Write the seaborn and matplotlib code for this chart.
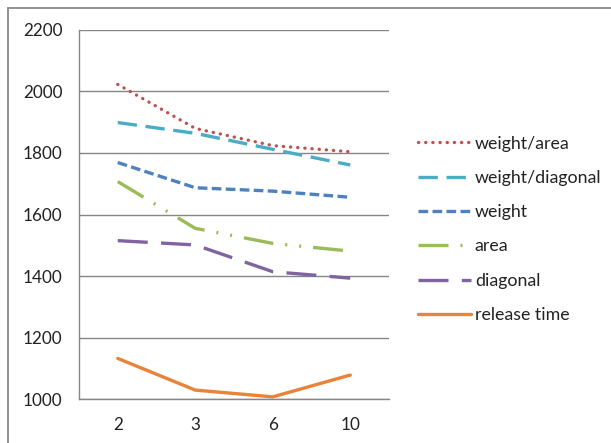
import matplotlib
matplotlib.use("Agg")
import matplotlib.pyplot as plt
import seaborn as sns
import pandas as pd

# data
groups = ["2", "3", "6", "10"]
weight_area = [2023, 1880, 1824, 1804]
weight_diagonal = [1899, 1864, 1812, 1761]
weight = [1769, 1687, 1676, 1656]
area = [1707, 1555, 1506, 1481]
diagonal = [1515, 1501, 1414, 1393]
release_time = [1132, 1029, 1007, 1078]

series = [
    ("weight/area", weight_area, "#C0504D", (0, (0.05, 2.1))),
    ("weight/diagonal", weight_diagonal, "#4BACC6", (0, (5.8, 2.6))),
    ("weight", weight, "#4F81BD", (0, (2.9, 1.3))),
    ("area", area, "#9BBB59", (0, (9, 3.6, 0.6, 3.6, 0.6, 3.6))),
    ("diagonal", diagonal, "#8064A2", (0, (9, 4))),
    ("release time", release_time, "#E8833A", "-"),
]

sns.set_style("white")
plt.rcParams["font.family"] = ["Lato", "DejaVu Sans"]

fig = plt.figure(figsize=(6.11, 4.43), dpi=100)
ax = fig.add_axes([0.1293, 0.0993, 0.5074, 0.833])

for name, vals, col, ls in series:
    df = pd.DataFrame({"group": groups, "value": vals})
    sns.lineplot(data=df, x="group", y="value", sort=False, color=col,
                 linestyle=ls, linewidth=2.4, label=name, ax=ax)

for ln in ax.get_lines():
    ln.set_dash_capstyle("round" if ln.get_label() == "weight/area" else "butt")

ax.set_xlim(-0.5, 3.5)
ax.set_ylim(1000, 2200)
ax.set_yticks(range(1000, 2201, 200))
ax.yaxis.grid(True, color="#868686", linewidth=1)
ax.set_axisbelow(True)
ax.set_xlabel("")
ax.set_ylabel("")
for s in ["top", "right"]:
    ax.spines[s].set_visible(False)
ax.spines["left"].set_color("#868686")
ax.spines["bottom"].set_color("#868686")
ax.spines["left"].set_linewidth(1)
ax.spines["bottom"].set_linewidth(1)
ax.tick_params(axis="both", length=0, labelsize=12.3, colors="#222222")
ax.tick_params(axis="y", pad=12)
ax.tick_params(axis="x", pad=13)

leg = ax.legend(loc="upper left", bbox_to_anchor=(0.684, 0.694),
                bbox_transform=fig.transFigure, frameon=False,
                fontsize=12.8, handlelength=3.0, handletextpad=0.2,
                labelspacing=1.03, borderaxespad=0, borderpad=0)
for t in leg.get_texts():
    t.set_color("#222222")

# outer chart frame
fig.add_artist(plt.Line2D([8 / 611, 8 / 611], [0, 1 - 8 / 443],
                          transform=fig.transFigure, color="#8a8a8a", lw=1.3))
fig.add_artist(plt.Line2D([8 / 611, 1], [1 - 8 / 443, 1 - 8 / 443],
                          transform=fig.transFigure, color="#8a8a8a", lw=1.3))

fig.savefig("out.png", dpi=100)
